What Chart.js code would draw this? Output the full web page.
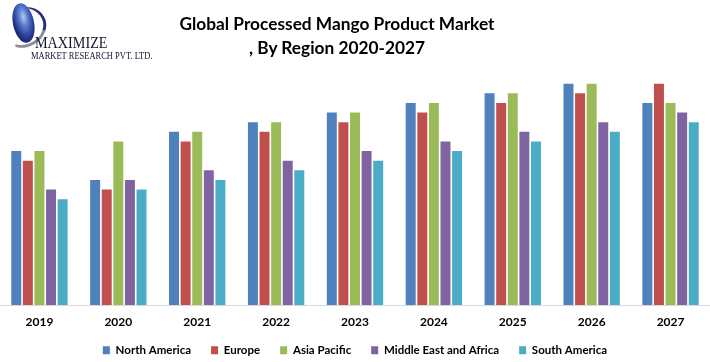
<!DOCTYPE html>
<html>
<head>
<meta charset="utf-8">
<script src="https://cdn.jsdelivr.net/npm/chart.js@4/dist/chart.umd.min.js"></script>
<style>
  html, body { margin: 0; padding: 0; background: #fff; overflow: hidden; }
  #wrap { position: relative; width: 710px; height: 362px; }
  #c { position: absolute; left: 0; top: 0; }
  #title { position: absolute; left: 137px; width: 400px; top: 12px; text-align: center;
           font-family: Lato, "Liberation Sans", sans-serif; font-weight: bold; font-size: 17.3px;
           line-height: 24px; color: #000; }
  #logo { position: absolute; left: 0; top: 0; width: 160px; height: 66px; }
  #swoosh { position: absolute; left: 2px; top: 8px; width: 40px; height: 36px; border-radius: 50%;
            border-bottom: 3px solid #8a8f9a; border-left: 2px solid transparent; border-right: 3px solid #2c2f7a;
            transform: rotate(-30deg); }
  #globe { position: absolute; left: 13px; top: 3px; width: 21px; height: 40px; border-radius: 50%;
           transform: rotate(-12deg);
           background: radial-gradient(ellipse at 55% 35%, #b9c9ee 0%, #5c7fd0 25%, #2a3f9a 55%, #141a5a 80%, #0a0d35 100%); }
  #m1 { position: absolute; left: 35px; top: 33px; font-family: "Liberation Serif", serif; font-size: 16.5px;
        color: #15152e; transform-origin: 0 0; transform: scaleX(0.86); white-space: nowrap; }
  #m2 { position: absolute; left: 31px; top: 49px; font-family: "Liberation Serif", serif; font-size: 11px;
        color: #15152e; transform-origin: 0 0; transform: scaleX(0.77); white-space: nowrap; }
</style>
</head>
<body>
<div id="wrap">
  <canvas id="c" width="710" height="362"></canvas>
  <div id="logo">
    <div id="swoosh"></div>
    <div id="globe"></div>
    <div id="m1">MAXIMIZE</div>
    <div id="m2">MARKET RESEARCH PVT. LTD.</div>
  </div>
  <div id="title">Global Processed Mango Product Market<br>, By Region 2020-2027</div>
</div>
<script>
const years = ["2019", "2020", "2021", "2022", "2023", "2024", "2025", "2026", "2027"];
const seriesNames = ["North America", "Europe", "Asia Pacific", "Middle East and Africa", "South America"];
const northAmerica = [16, 13, 18, 19, 20, 21, 22, 23, 21];
const europe       = [15, 12, 17, 18, 19, 20, 21, 22, 23];
const asiaPacific  = [16, 17, 18, 19, 20, 21, 22, 23, 21];
const middleEastAfrica = [12, 13, 14, 15, 16, 17, 18, 19, 20];
const southAmerica = [11, 12, 13, 14, 15, 16, 17, 18, 19];
const colors = ["#4F81BD", "#C0504D", "#9BBB59", "#8064A2", "#4BACC6"];

const seriesData = [northAmerica, europe, asiaPacific, middleEastAfrica, southAmerica];

// let the x tick labels draw below the (deliberately short) axis box without being clipped
const unclipLabels = {
  id: "unclipLabels",
  afterLayout(chart) { chart.scales.x.bottom = chart.height; }
};

new Chart(document.getElementById("c"), {
  type: "bar",
  data: {
    labels: years,
    datasets: seriesData.map((d, i) => ({
      label: seriesNames[i],
      data: d,
      backgroundColor: colors[i],
      borderWidth: 0,
      categoryPercentage: 0.735,
      barPercentage: 0.86
    }))
  },
  plugins: [unclipLabels],
  options: {
    responsive: false,
    animation: false,
    devicePixelRatio: 1,
    layout: { padding: { top: 74, left: 0, right: 0, bottom: -4 } },
    plugins: {
      title: { display: false },
      tooltip: { enabled: false },
      legend: {
        position: "bottom",
        labels: {
          boxWidth: 7,
          boxHeight: 8,
          padding: 20,
          color: "#000",
          font: { family: "Lato, 'Liberation Sans', sans-serif", size: 11.5, weight: "bold" }
        }
      }
    },
    scales: {
      x: {
        grid: { display: false, drawTicks: false },
        border: { display: true, color: "#D9D9D9", width: 1 },
        afterFit: (scale) => { scale.height = 19.5; },
        ticks: {
          color: "#000",
          padding: 15,
          font: { family: "Lato, 'Liberation Sans', sans-serif", size: 12, weight: "bold", lineHeight: "5px" }
        }
      },
      y: {
        display: false,
        min: 0,
        max: 24
      }
    }
  }
});
</script>
</body>
</html>
